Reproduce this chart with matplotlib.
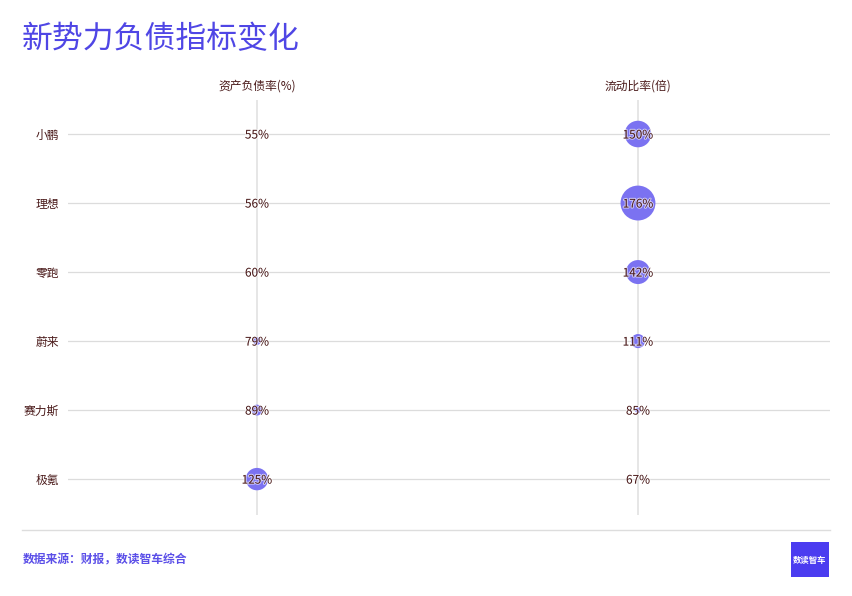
import matplotlib.pyplot as plt
import matplotlib.patheffects as pe
import matplotlib.transforms as mtransforms
from matplotlib.patches import Rectangle
from matplotlib.lines import Line2D
import numpy as np

plt.rcParams['font.family'] = ['Noto Sans CJK SC', 'DejaVu Sans']

# data
companies = ['小鹏', '理想', '零跑', '蔚来', '赛力斯', '极氪']
columns = ['资产负债率(%)', '流动比率(倍)']
debt_ratio = [55, 56, 60, 79, 89, 125]
current_ratio = [150, 176, 142, 111, 85, 67]

title_color = '#4f46e5'
bubble_color = '#7b72f1'
text_color = '#4a1a1a'
grid_color = '#dcdcdc'

W, H = 852, 596
fig = plt.figure(figsize=(W / 100, H / 100), dpi=100)
fig.patch.set_facecolor('white')

# axes area in pixels: x 68..830, y 100..515
ax = fig.add_axes([68 / W, 1 - 515 / H, 762 / W, 415 / H])
ax.set_xlim(-0.496, 1.504)
ax.set_ylim(5.52, -0.493)
ax.axis('off')

# text sits ~1px lower than the row line
txt_trans = mtransforms.offset_copy(ax.transData, fig=fig, x=0, y=-1, units='dots')

rows = np.arange(len(companies))
for r in rows:
    ax.axhline(r, color=grid_color, lw=0.9, zorder=1)
for c in range(len(columns)):
    ax.axvline(c, color='#e2e2e2', lw=1.2, zorder=1)

# bubble radius in px ~ distance from the column minimum
px_per_unit = 0.16
for c, vals in enumerate([debt_ratio, current_ratio]):
    vals = np.array(vals)
    r_px = px_per_unit * (vals - vals.min())
    s = (2 * r_px * 72 / 100) ** 2
    ax.scatter(np.full(len(vals), c), rows, s=s, color=bubble_color,
               edgecolors='none', zorder=2)
    for r, v in zip(rows, vals):
        ax.text(c, r, f'{v}%', ha='center', va='center', fontsize=8.5,
                color=text_color, zorder=3, transform=txt_trans,
                path_effects=[pe.withStroke(linewidth=1.5, foreground='white', alpha=0.6)])

# row labels
for r, name in zip(rows, companies):
    ax.text(-0.52, r, name, ha='right', va='center', fontsize=8.5,
            color=text_color, transform=txt_trans, clip_on=False)

# column headers
for c, name in enumerate(columns):
    fig.text((68 + 762 * (c + 0.496) / 2.0) / W, 1 - 86 / H, name,
             ha='center', va='center', fontsize=8.5, color=text_color)

# title
fig.text(22 / W, 1 - 40 / H, '新势力负债指标变化', ha='left', va='center',
         fontsize=22.2, color=title_color)

# bottom separator and source
fig.add_artist(Line2D([22 / W, 830 / W], [1 - 530 / H, 1 - 530 / H],
                      color='#dddddd', lw=1))
fig.text(23 / W, 1 - 560 / H, '数据来源：财报，数读智车综合', ha='left',
         va='center', fontsize=8.5, color='#5b4fe8', fontweight='bold')

# logo box
fig.add_artist(Rectangle((791 / W, 1 - 577 / H), 38 / W, 35 / H,
                         transform=fig.transFigure, color='#4b3cf0', lw=0))
fig.text(810 / W, 1 - 560 / H, '数读智车', ha='center', va='center',
         fontsize=6, color='white', fontweight='bold', style='italic')

fig.savefig('out.png', dpi=100)
